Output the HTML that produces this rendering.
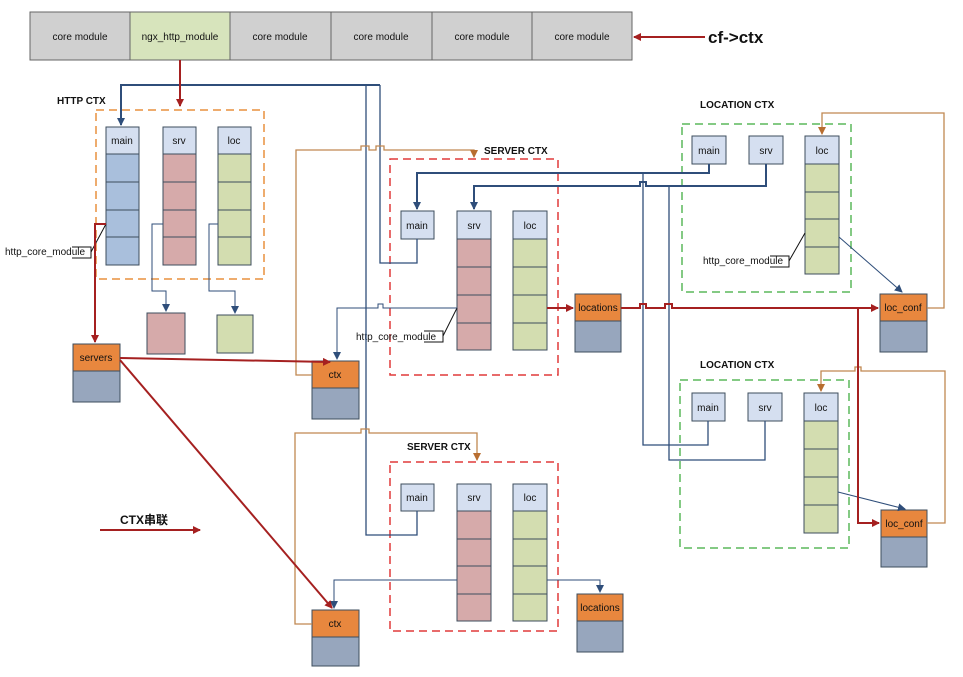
<!DOCTYPE html>
<html><head><meta charset="utf-8"><style>
html,body{margin:0;padding:0;background:#fff}
svg{display:block}
text{font-family:"Liberation Sans","Noto Sans CJK SC",sans-serif;font-size:10px;fill:#111}
.b{font-weight:bold}
</style></head><body>
<svg width="963" height="677" viewBox="0 0 963 677" xmlns="http://www.w3.org/2000/svg">
<defs>
<marker id="ar" markerWidth="8" markerHeight="8" refX="7" refY="4" orient="auto" markerUnits="userSpaceOnUse"><path d="M0,0 L8,4 L0,8z" fill="#a52020"/></marker>
<marker id="ab" markerWidth="8" markerHeight="8" refX="7" refY="4" orient="auto" markerUnits="userSpaceOnUse"><path d="M0,0 L8,4 L0,8z" fill="#2f4e7a"/></marker>
<marker id="ao" markerWidth="8" markerHeight="8" refX="7" refY="4" orient="auto" markerUnits="userSpaceOnUse"><path d="M0,0 L8,4 L0,8z" fill="#b86e30"/></marker>
</defs>
<!-- top bar -->
<g stroke="#666" stroke-width="1">
<rect x="30" y="12" width="100" height="48" fill="#d0d0d0"/>
<rect x="130" y="12" width="100" height="48" fill="#d7e4bc"/>
<rect x="230" y="12" width="101" height="48" fill="#d0d0d0"/>
<rect x="331" y="12" width="101" height="48" fill="#d0d0d0"/>
<rect x="432" y="12" width="100" height="48" fill="#d0d0d0"/>
<rect x="532" y="12" width="100" height="48" fill="#d0d0d0"/>
</g>
<g text-anchor="middle" font-size="11">
<text x="80" y="40">core module</text><text x="180" y="40">ngx_http_module</text><text x="280" y="40">core module</text><text x="381" y="40">core module</text><text x="482" y="40">core module</text><text x="582" y="40">core module</text>
</g>
<line x1="705" y1="37" x2="634" y2="37" stroke="#a52020" stroke-width="2" marker-end="url(#ar)"/>
<text x="708" y="43" class="b" style="font-size:17px">cf-&gt;ctx</text>

<!-- titles -->
<text x="57" y="104" class="b">HTTP CTX</text>
<text x="484" y="154" class="b">SERVER CTX</text>
<text x="700" y="108" class="b">LOCATION CTX</text>
<text x="700" y="368" class="b">LOCATION CTX</text>
<text x="407" y="450" class="b">SERVER CTX</text>
<text x="120" y="524" class="b" style="font-size:12px">CTX串联</text>
<line x1="100" y1="530" x2="200" y2="530" stroke="#a52020" stroke-width="2" marker-end="url(#ar)"/>

<!-- dashed boxes -->
<rect x="96" y="110" width="168" height="169" fill="none" stroke="#e8903e" stroke-width="1.5" stroke-dasharray="8,5"/>
<rect x="390" y="159" width="168" height="216" fill="none" stroke="#e03a3a" stroke-width="1.5" stroke-dasharray="8,5"/>
<rect x="682" y="124" width="169" height="168" fill="none" stroke="#5cb85c" stroke-width="1.5" stroke-dasharray="8,5"/>
<rect x="680" y="380" width="169" height="168" fill="none" stroke="#5cb85c" stroke-width="1.5" stroke-dasharray="8,5"/>
<rect x="390" y="462" width="168" height="169" fill="none" stroke="#e03a3a" stroke-width="1.5" stroke-dasharray="8,5"/>

<!-- columns -->
<g stroke="#3d4d5d" stroke-width="1">
<!-- http main -->
<rect x="106" y="127" width="33" height="27" fill="#d5dff0"/>
<rect x="106" y="154" width="33" height="28" fill="#a9bfdc"/><rect x="106" y="182" width="33" height="28" fill="#a9bfdc"/><rect x="106" y="210" width="33" height="27" fill="#a9bfdc"/><rect x="106" y="237" width="33" height="28" fill="#a9bfdc"/>
<rect x="163" y="127" width="33" height="27" fill="#d5dff0"/>
<rect x="163" y="154" width="33" height="28" fill="#d6aaaa"/><rect x="163" y="182" width="33" height="28" fill="#d6aaaa"/><rect x="163" y="210" width="33" height="27" fill="#d6aaaa"/><rect x="163" y="237" width="33" height="28" fill="#d6aaaa"/>
<rect x="218" y="127" width="33" height="27" fill="#d5dff0"/>
<rect x="218" y="154" width="33" height="28" fill="#d3ddb0"/><rect x="218" y="182" width="33" height="28" fill="#d3ddb0"/><rect x="218" y="210" width="33" height="27" fill="#d3ddb0"/><rect x="218" y="237" width="33" height="28" fill="#d3ddb0"/>
<rect x="147" y="313" width="38" height="41" fill="#d6aaaa"/>
<rect x="217" y="315" width="36" height="38" fill="#d3ddb0"/>
<!-- server1 -->
<rect x="401" y="211" width="33" height="28" fill="#d5dff0"/>
<rect x="457" y="211" width="34" height="28" fill="#d5dff0"/>
<rect x="457" y="239" width="34" height="28" fill="#d6aaaa"/><rect x="457" y="267" width="34" height="28" fill="#d6aaaa"/><rect x="457" y="295" width="34" height="28" fill="#d6aaaa"/><rect x="457" y="323" width="34" height="27" fill="#d6aaaa"/>
<rect x="513" y="211" width="34" height="28" fill="#d5dff0"/>
<rect x="513" y="239" width="34" height="28" fill="#d3ddb0"/><rect x="513" y="267" width="34" height="28" fill="#d3ddb0"/><rect x="513" y="295" width="34" height="28" fill="#d3ddb0"/><rect x="513" y="323" width="34" height="27" fill="#d3ddb0"/>
<!-- server2 -->
<rect x="401" y="484" width="33" height="27" fill="#d5dff0"/>
<rect x="457" y="484" width="34" height="27" fill="#d5dff0"/>
<rect x="457" y="511" width="34" height="28" fill="#d6aaaa"/><rect x="457" y="539" width="34" height="27" fill="#d6aaaa"/><rect x="457" y="566" width="34" height="28" fill="#d6aaaa"/><rect x="457" y="594" width="34" height="27" fill="#d6aaaa"/>
<rect x="513" y="484" width="34" height="27" fill="#d5dff0"/>
<rect x="513" y="511" width="34" height="28" fill="#d3ddb0"/><rect x="513" y="539" width="34" height="27" fill="#d3ddb0"/><rect x="513" y="566" width="34" height="28" fill="#d3ddb0"/><rect x="513" y="594" width="34" height="27" fill="#d3ddb0"/>
<!-- loc1 -->
<rect x="692" y="136" width="34" height="28" fill="#d5dff0"/>
<rect x="749" y="136" width="34" height="28" fill="#d5dff0"/>
<rect x="805" y="136" width="34" height="28" fill="#d5dff0"/>
<rect x="805" y="164" width="34" height="28" fill="#d3ddb0"/><rect x="805" y="192" width="34" height="27" fill="#d3ddb0"/><rect x="805" y="219" width="34" height="28" fill="#d3ddb0"/><rect x="805" y="247" width="34" height="27" fill="#d3ddb0"/>
<!-- loc2 -->
<rect x="692" y="393" width="33" height="28" fill="#d5dff0"/>
<rect x="748" y="393" width="34" height="28" fill="#d5dff0"/>
<rect x="804" y="393" width="34" height="28" fill="#d5dff0"/>
<rect x="804" y="421" width="34" height="28" fill="#d3ddb0"/><rect x="804" y="449" width="34" height="28" fill="#d3ddb0"/><rect x="804" y="477" width="34" height="28" fill="#d3ddb0"/><rect x="804" y="505" width="34" height="28" fill="#d3ddb0"/>
<!-- orange nodes -->
<rect x="73" y="344" width="47" height="27" fill="#e8873e"/><rect x="73" y="371" width="47" height="31" fill="#97a6bd"/>
<rect x="312" y="361" width="47" height="27" fill="#e8873e"/><rect x="312" y="388" width="47" height="31" fill="#97a6bd"/>
<rect x="312" y="610" width="47" height="27" fill="#e8873e"/><rect x="312" y="637" width="47" height="29" fill="#97a6bd"/>
<rect x="575" y="294" width="46" height="27" fill="#e8873e"/><rect x="575" y="321" width="46" height="31" fill="#97a6bd"/>
<rect x="577" y="594" width="46" height="27" fill="#e8873e"/><rect x="577" y="621" width="46" height="31" fill="#97a6bd"/>
<rect x="880" y="294" width="47" height="27" fill="#e8873e"/><rect x="880" y="321" width="47" height="31" fill="#97a6bd"/>
<rect x="881" y="510" width="46" height="27" fill="#e8873e"/><rect x="881" y="537" width="46" height="30" fill="#97a6bd"/>
</g>
<g text-anchor="middle">
<text x="122" y="144">main</text><text x="179" y="144">srv</text><text x="234" y="144">loc</text>
<text x="417" y="229">main</text><text x="474" y="229">srv</text><text x="530" y="229">loc</text>
<text x="417" y="501">main</text><text x="474" y="501">srv</text><text x="530" y="501">loc</text>
<text x="709" y="154">main</text><text x="766" y="154">srv</text><text x="822" y="154">loc</text>
<text x="708" y="411">main</text><text x="765" y="411">srv</text><text x="821" y="411">loc</text>
<text x="96" y="361">servers</text><text x="335" y="378">ctx</text><text x="335" y="627">ctx</text>
<text x="598" y="311">locations</text><text x="600" y="611">locations</text>
<text x="903" y="311">loc_conf</text><text x="904" y="527">loc_conf</text>
</g>
<!-- http_core_module labels -->
<g fill="none" stroke="#111" stroke-width="1">
<path d="M72,247 H91 V258 H72"/><path d="M91,252 L106,224"/>
<path d="M424,331 H443 V342 H424"/><path d="M443,336 L457,308"/>
<path d="M770,256 H789 V267 H770"/><path d="M789,261 L805,233"/>
</g>
<text x="5" y="255">http_core_module</text>
<text x="356" y="340">http_core_module</text>
<text x="703" y="264">http_core_module</text>

<!-- blue thick lines -->
<g fill="none" stroke="#2f4e7a" stroke-width="2">
<path d="M380,85 H121 V125" marker-end="url(#ab)"/>
<path d="M709,164 V173 H417 V209" marker-end="url(#ab)"/>
<path d="M766,164 V186 H646 v-4 h-6 v4 H474 V209" marker-end="url(#ab)"/>
</g>
<g fill="none" stroke="#2f4e7a" stroke-width="1.3">
<path d="M380,85 V263 H417 V239"/>
<path d="M366,85 V535 H417 V511"/>
<path d="M643,173 V445 H708 V421"/>
<path d="M669,186 V460 H765 V421"/>
</g>
<!-- thin blue arrows -->
<g fill="none" stroke="#2f4e7a" stroke-width="1">
<path d="M163,224 H152 V291 H166 V311" marker-end="url(#ab)"/>
<path d="M218,224 H209 V291 H235 V313" marker-end="url(#ab)"/>
<path d="M457,308 H383 v-4 h-5 v4 H337 V359" marker-end="url(#ab)"/>
<path d="M457,580 H334 V608" marker-end="url(#ab)"/>
<path d="M547,580 H600 V592" marker-end="url(#ab)"/>
<path d="M839,237 L902,292" marker-end="url(#ab)"/>
<path d="M838,492 L905,509" marker-end="url(#ab)"/>
</g>
<!-- brown lines -->
<g fill="none" stroke="#c08850" stroke-width="1.3">
<path d="M312,375 H296 V150 H361 v-4 h8 v4 H376 v-4 h8 v4 H474 V157" marker-end="url(#ao)"/>
<path d="M927,308 H944 V113 H822 V134" marker-end="url(#ao)"/>
<path d="M927,523 H945 V371 H861 v-4 h-6 v4 H821 V391" marker-end="url(#ao)"/>
<path d="M312,624 H295 V433 H361 v-4 h8 v4 H477 V460" marker-end="url(#ao)"/>
</g>
<!-- red lines -->
<g fill="none" stroke="#a52020" stroke-width="2">
<path d="M180,60 V106" marker-end="url(#ar)"/>
<path d="M106,224 H95 V342" marker-end="url(#ar)"/>
<path d="M120,358 L330,362" marker-end="url(#ar)"/>
<path d="M120,360 L332,608" marker-end="url(#ar)"/>
<path d="M547,308 H573" marker-end="url(#ar)"/>
<path d="M621,308 H640 v-4 h6 v4 H665 v-4 h7 v4 H878" marker-end="url(#ar)"/>
<path d="M858,308 V523 H879" marker-end="url(#ar)"/>
</g>
</svg>
</body></html>
